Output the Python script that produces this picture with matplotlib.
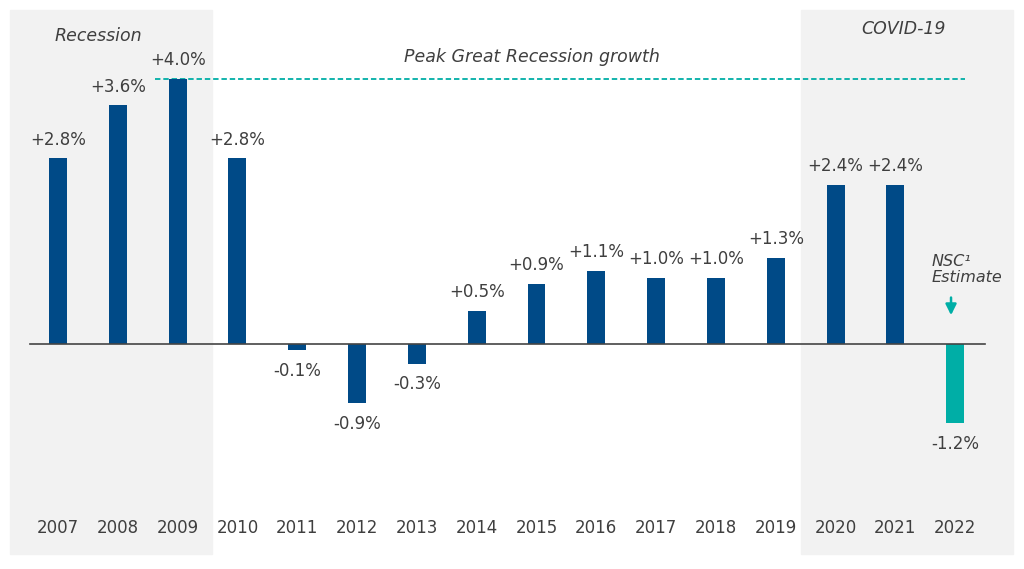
import numpy as np
import matplotlib.pyplot as plt
from matplotlib.patches import Rectangle

years = [str(y) for y in range(2007, 2023)]
growth = [2.8, 3.6, 4.0, 2.8, -0.1, -0.9, -0.3, 0.5, 0.9, 1.1, 1.0, 1.0, 1.3, 2.4, 2.4, -1.2]
labels = ['+2.8%', '+3.6%', '+4.0%', '+2.8%', '-0.1%', '-0.9%', '-0.3%', '+0.5%',
          '+0.9%', '+1.1%', '+1.0%', '+1.0%', '+1.3%', '+2.4%', '+2.4%', '-1.2%']
peak = 4.0

blue = '#004a87'
teal = '#00aea6'
shade = '#f2f2f2'
grey = '#3f3f3f'

plt.rcParams['font.family'] = 'DejaVu Sans'

fig = plt.figure(figsize=(10.24, 5.69), dpi=100)
ax = fig.add_axes([0, 0, 1, 1])
ax.set_xlim(-0.97, 16.15)
ax.set_ylim(-3.40, 5.19)
ax.axis('off')

# shaded periods
ax.add_patch(Rectangle((-0.80, -3.18), 3.375, 8.22, color=shade, zorder=0))
ax.add_patch(Rectangle((12.42, -3.18), 3.55, 8.22, color=shade, zorder=0))

x = np.arange(len(years))
colors = [blue] * (len(years) - 1) + [teal]
ax.bar(x, growth, width=0.3, color=colors, zorder=2)

ax.plot([-0.47, 15.5], [0, 0], color='#444444', lw=1.2, zorder=3)
ax.plot([1.62, 15.17], [peak, peak], color=teal, lw=1.3, ls=(0, (3, 1.6)), zorder=1)

for i, (v, lab) in enumerate(zip(growth, labels)):
    off = 13.5 if v > 0 else -15
    ax.annotate(lab, (i, v), xytext=(0, off), textcoords='offset points',
                ha='center', va='center', fontsize=12, color=grey)
    ax.text(i, -2.78, years[i], ha='center', va='center', fontsize=12, color=grey)

ax.text(0.67, 4.65, 'Recession', ha='center', va='center', fontsize=12.5,
        style='italic', color=grey)
ax.text(14.13, 4.75, 'COVID-19', ha='center', va='center', fontsize=12.5,
        style='italic', color=grey)
ax.text(7.93, 4.33, 'Peak Great Recession growth', ha='center', va='center',
        fontsize=12.5, style='italic', color=grey)
ax.text(14.6, 1.12, 'NSC\u00b9\nEstimate', ha='left', va='center', fontsize=11.5,
        style='italic', color=grey, linespacing=1.05)
ax.annotate('', xy=(14.93, 0.39), xytext=(14.93, 0.74),
            arrowprops=dict(arrowstyle='-|>', color=teal, lw=1.8, mutation_scale=16))

fig.savefig('out.png', dpi=100, facecolor='white')
